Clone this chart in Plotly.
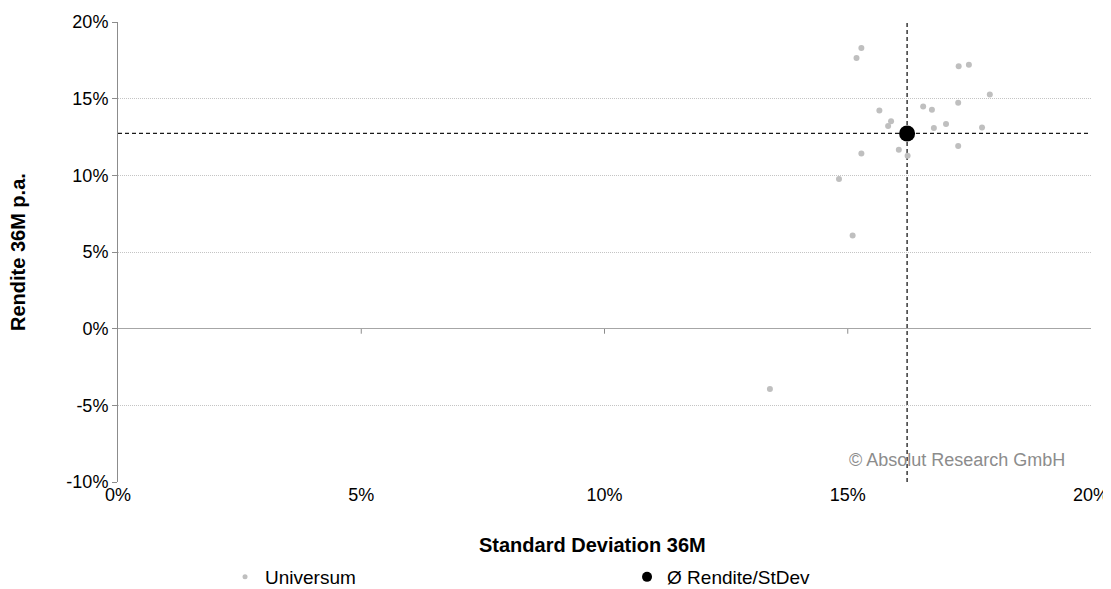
import plotly.graph_objects as go

# Universe points (standard deviation %, return % p.a.)
universe_sd = [15.28, 15.18, 17.28, 17.49, 17.92, 15.65, 16.55, 16.73, 17.27, 15.89, 15.83,
               16.77, 17.02, 17.76, 16.05, 16.23, 15.28, 17.27, 14.82, 15.10, 13.40]
universe_ret = [18.30, 17.65, 17.12, 17.21, 15.27, 14.23, 14.49, 14.28, 14.73, 13.52, 13.21,
                13.08, 13.34, 13.12, 11.67, 11.28, 11.43, 11.91, 9.76, 6.08, -3.93]

# Average point
avg_sd = [16.22]
avg_ret = [12.73]

series_names = ["Universum", "Ø Rendite/StDev"]
x_ticks = [0, 5, 10, 15, 20]
x_tick_labels = ["0%", "5%", "10%", "15%", "20%"]
y_ticks = [-10, -5, 0, 5, 10, 15, 20]
y_tick_labels = ["-10%", "-5%", "0%", "5%", "10%", "15%", "20%"]

FONT = "Liberation Sans, Arial, sans-serif"
GRAY = "#BFBFBF"

fig = go.Figure()

# Dashed reference lines through the average
fig.add_trace(go.Scatter(x=[x_ticks[0], x_ticks[-1]], y=[avg_ret[0], avg_ret[0]], mode="lines",
                         line=dict(color="#1a1a1a", width=1.3, dash="4px,3px"),
                         showlegend=False, hoverinfo="skip"))
fig.add_trace(go.Scatter(x=[avg_sd[0], avg_sd[0]], y=[y_ticks[0], y_ticks[-1]], mode="lines",
                         line=dict(color="#1a1a1a", width=1.3, dash="4px,3px"),
                         showlegend=False, hoverinfo="skip"))

fig.add_trace(go.Scatter(x=universe_sd, y=universe_ret, mode="markers", name=series_names[0],
                         marker=dict(color=GRAY, size=6), showlegend=False))
fig.add_trace(go.Scatter(x=avg_sd, y=avg_ret, mode="markers", name=series_names[1],
                         marker=dict(color="#000000", size=16), showlegend=False))

# legend entries (smaller symbols, as in the reference legend)
fig.add_trace(go.Scatter(x=[None], y=[None], mode="markers", name=series_names[0],
                         marker=dict(color=GRAY, size=5)))
fig.add_trace(go.Scatter(x=[None], y=[None], mode="markers", name=series_names[1],
                         marker=dict(color="#000000", size=10)))

# x tick marks on the zero line
for t in x_ticks[1:-1]:
    fig.add_shape(type="line", xref="x", yref="y", x0=t, x1=t, y0=0, y1=-0.33,
                  line=dict(color="#8C8C8C", width=1), layer="below")

fig.add_annotation(text="© Absolut Research GmbH", xref="paper", yref="paper",
                   x=0.9757, y=0.048, xanchor="right", yanchor="middle", showarrow=False,
                   font=dict(family=FONT, size=18, color="#8C8C8C"))

# axis titles
fig.add_annotation(text="<b>Standard Deviation 36M</b>", xref="paper", yref="paper",
                   x=(592 - 118) / 973, y=-(545 - 482) / 460, xanchor="center", yanchor="middle",
                   showarrow=False, font=dict(family=FONT, size=20, color="#000000"))
fig.add_annotation(text="<b>Rendite 36M p.a.</b>", xref="paper", yref="paper",
                   x=-(118 - 18) / 973, y=(482 - 252) / 460, xanchor="center", yanchor="middle",
                   textangle=-90, showarrow=False, font=dict(family=FONT, size=20, color="#000000"))

# page body has an 8px margin: figure is placed at (8, 8) in the window
fig.update_layout(
    width=1103, height=581,
    margin=dict(l=110, r=20, t=14, b=107, autoexpand=False),
    plot_bgcolor="white", paper_bgcolor="white",
    font=dict(family=FONT, size=18, color="#000000"),
    legend=dict(orientation="h", x=0.11, y=-(577 - 482) / 460, xanchor="left", yanchor="middle",
                entrywidth=357, entrywidthmode="pixels", itemsizing="trace",
                font=dict(family=FONT, size=19, color="#000000"), traceorder="normal",
                itemwidth=30),
    xaxis=dict(range=[0, 20], tickvals=x_ticks, ticktext=x_tick_labels, showgrid=False,
               zeroline=False, showline=False, ticks="", automargin=False,
               tickfont=dict(family=FONT, size=18)),
    yaxis=dict(range=[-10, 20], tickvals=y_ticks, ticktext=y_tick_labels, showgrid=True,
               gridcolor="#C4C4C4", griddash="1px,1px", gridwidth=1,
               zeroline=True, zerolinecolor="#A6A6A6", zerolinewidth=1,
               showline=True, linecolor="#8C8C8C", linewidth=1,
               ticks="outside", ticklen=5, tickcolor="#8C8C8C", automargin=False,
               tickfont=dict(family=FONT, size=18)),
)

fig.write_html("out.html")
